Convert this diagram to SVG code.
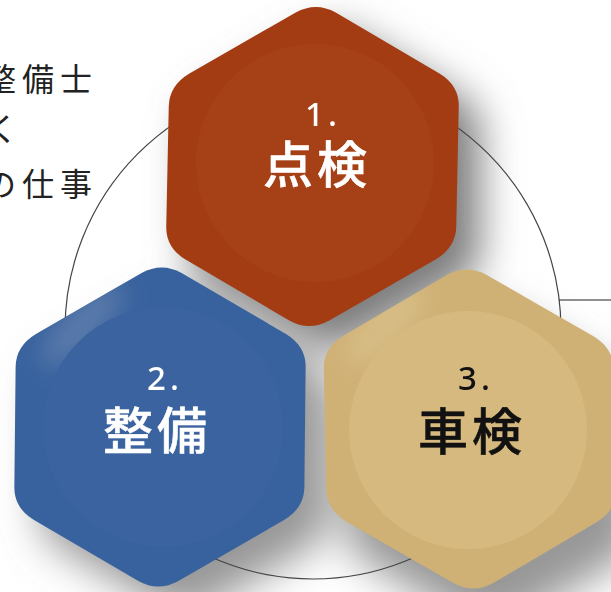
<svg xmlns="http://www.w3.org/2000/svg" width="611" height="592" viewBox="0 0 611 592">
<style>
.cap{font-family:"Noto Sans CJK JP","Noto Sans",sans-serif;font-size:50px;font-weight:500;letter-spacing:4px;stroke-width:.5}
.num{font-family:"Noto Sans","Liberation Sans",sans-serif;font-size:33px;font-weight:500;letter-spacing:4px}
.side{font-family:"Noto Sans CJK JP",sans-serif;font-size:32px;fill:#222;letter-spacing:6px}
.line{fill:none;stroke:#444;stroke-width:1.2}
.w{fill:#fff;stroke:#fff}
.k{fill:#111;stroke:#111}
</style>
<defs>
<path id="hex" d="M-20-154Q0-165 20-154L125-93Q145-81 145-60V60Q145 81 125 93L20 154Q0 165-20 154L-125 93Q-145 81-145 60V-60Q-145-81-125-93Z"/>
<filter id="blur" x="-40%" y="-40%" width="190%" height="190%"><feGaussianBlur stdDeviation="20"/></filter>
<filter id="glow" x="-60%" y="-60%" width="220%" height="220%"><feGaussianBlur stdDeviation="12"/></filter>
<clipPath id="c2"><use href="#hex" transform="translate(160 427) skewX(-.6)"/></clipPath>
<clipPath id="c3"><use href="#hex" transform="translate(470 429) skewX(1.2)"/></clipPath>
</defs>
<rect width="611" height="592" fill="#fff"/>
<g id="side-text">
<text class="side" x="-16" y="91">整備士</text>
<text class="side" x="-14" y="141">く</text>
<text class="side" x="-16" y="196">の仕事</text>
</g>
<g id="shadows" fill="#7d7d7d" filter="url(#blur)">
<use href="#hex" transform="translate(335 190)"/>
<use href="#hex" transform="translate(185 455)" opacity=".8"/>
<use href="#hex" transform="translate(492 470)" opacity=".8"/>
</g>
<g id="connectors">
<ellipse class="line" cx="313" cy="330" rx="248" ry="249"/>
<path class="line" d="M559 300H611" style="stroke:#222"/>
</g>
<g id="node-1">
<use href="#hex" transform="translate(312.5 166.5) skewX(-1.2)" fill="#a33c13"/>
<circle cx="315" cy="163" r="119" fill="#a64117"/>
<text class="num w" style="stroke:none" x="305" y="126">1.</text>
<text class="cap w" x="263" y="183">点検</text>
</g>
<g id="node-2">
<use href="#hex" transform="translate(160 427) skewX(-.6)" fill="#38629e"/>
<g clip-path="url(#c2)"><ellipse cx="82" cy="325" rx="55" ry="18" transform="rotate(-45 82 325)" fill="#5c7cab" filter="url(#glow)"/></g>
<circle cx="163" cy="427" r="120" fill="#3b639f"/>
<text class="num w" style="stroke:none" x="147" y="390">2.</text>
<text class="cap w" x="103" y="449">整備</text>
</g>
<g id="node-3">
<use href="#hex" transform="translate(470 429) skewX(1.2)" fill="#cfb075"/>
<g clip-path="url(#c3)"><ellipse cx="385" cy="325" rx="55" ry="16" transform="rotate(-45 385 325)" fill="#d8bf88" filter="url(#glow)"/></g>
<circle cx="468" cy="430" r="119" fill="#d6b97e"/>
<text class="num k" style="stroke:none" x="458" y="390">3.</text>
<text class="cap k" x="418" y="450">車検</text>
</g>
</svg>
